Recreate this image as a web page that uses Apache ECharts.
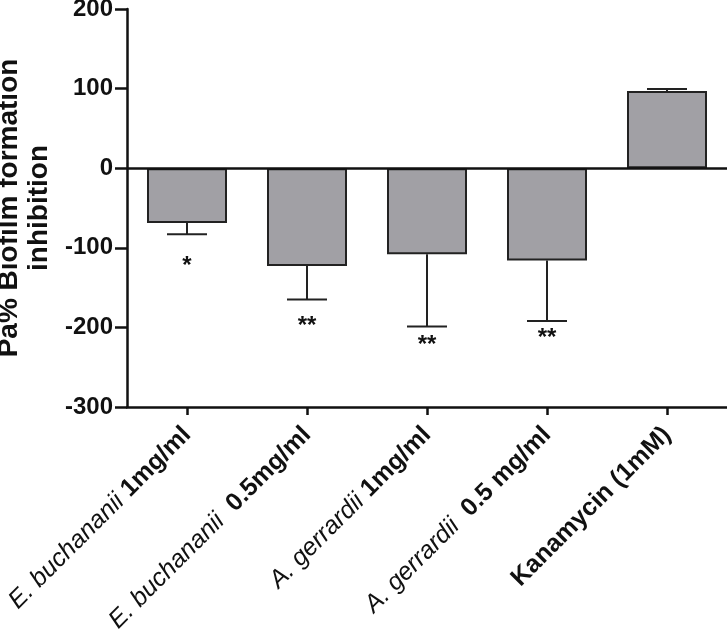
<!DOCTYPE html>
<html><head><meta charset="utf-8">
<script src="https://cdn.jsdelivr.net/npm/echarts@6/dist/echarts.min.js"></script>
<style>html,body{margin:0;padding:0;background:#fff}#c{width:727px;height:631px}</style>
</head><body><div id="c"></div>
<script>
const species = ['E. buchananii', 'E. buchananii', 'A. gerrardii', 'A. gerrardii', ''];
const doses = [' 1mg/ml', '  0.5mg/ml', ' 1mg/ml', '  0.5 mg/ml', 'Kanamycin (1mM)'];
const categories = ['c1', 'c2', 'c3', 'c4', 'c5'];
const values = [-69, -123, -108, -116, 97];
const errorEnds = [-83, -165, -199, -192, 99.5];
const sigMarks = ['*', '**', '**', '**', ''];
const sigY = [-118, -194, -218, -209, null];
const yTicks = { min: -300, max: 200, interval: 100 };

const FONT = '"Liberation Sans", Arial, Helvetica, sans-serif';
const chart = echarts.init(document.getElementById('c'), null, { renderer: 'canvas' });

const sigData = [];
sigY.forEach((v, i) => { if (v !== null && sigMarks[i]) sigData.push([i, v, sigMarks[i]]); });

chart.setOption({
  animation: false,
  grid: { left: 127, right: 0, top: 9, bottom: 224, containLabel: false, outerBoundsMode: 'none' },
  xAxis: {
    type: 'category',
    data: categories,
    axisLine: { onZero: false, lineStyle: { color: '#111', width: 2.5 } },
    axisTick: { show: true, alignWithLabel: true, length: 8, lineStyle: { color: '#111', width: 2.5 } },
    axisLabel: {
      rotate: 45, margin: 24, interval: 0,
      formatter: (v, i) => {
        const sp = species[i] ? '{i|' + species[i] + '}' : '';
        return sp + '{b|' + doses[i] + '}';
      },
      rich: {
        i: { fontFamily: FONT, fontStyle: 'italic', fontSize: 25, color: '#111' },
        b: { fontFamily: FONT, fontWeight: 'bold', fontSize: 25, color: '#111' }
      }
    }
  },
  yAxis: {
    type: 'value', min: yTicks.min, max: yTicks.max, interval: yTicks.interval,
    name: 'Pa% Biofilm formation\ninhibition',
    nameLocation: 'middle', nameGap: 62, nameRotate: 90,
    nameTextStyle: { fontFamily: FONT, fontWeight: 'bold', fontSize: 28, color: '#111', lineHeight: 30 },
    axisLine: { show: true, lineStyle: { color: '#111', width: 2.5 } },
    axisTick: { show: true, length: 12, lineStyle: { color: '#111', width: 2.5 } },
    axisLabel: { fontFamily: FONT, fontWeight: 'bold', fontSize: 24, color: '#111', margin: 14 },
    splitLine: { show: false }
  },
  series: [
    {
      type: 'bar', data: values, barWidth: 80,
      itemStyle: { color: '#a1a0a5', borderColor: '#222', borderWidth: 2 },
      markLine: {
        silent: true, symbol: ['none', 'none'], label: { show: false },
        lineStyle: { color: '#111', width: 2.5, type: 'solid' },
        data: [{ yAxis: 0 }]
      },
      z: 2
    },
    {
      type: 'custom',
      data: values.map((v, i) => [i, v, errorEnds[i]]),
      renderItem: (params, api) => {
        const p0 = api.coord([api.value(0), api.value(1)]);
        const p1 = api.coord([api.value(0), api.value(2)]);
        const half = 20;
        const style = { stroke: '#222', lineWidth: 2 };
        return {
          type: 'group',
          children: [
            { type: 'line', shape: { x1: p0[0], y1: p0[1], x2: p1[0], y2: p1[1] }, style },
            { type: 'line', shape: { x1: p1[0] - half, y1: p1[1], x2: p1[0] + half, y2: p1[1] }, style }
          ]
        };
      },
      z: 3
    },
    {
      type: 'custom',
      data: sigData,
      renderItem: (params, api) => {
        const d = sigData[params.dataIndex];
        const p = api.coord([d[0], d[1]]);
        return {
          type: 'text',
          style: { text: d[2], x: p[0], y: p[1] + 4, align: 'center', verticalAlign: 'middle',
                   font: 'bold 24px ' + FONT, fill: '#111' }
        };
      },
      z: 4
    }
  ]
});
</script></body></html>
